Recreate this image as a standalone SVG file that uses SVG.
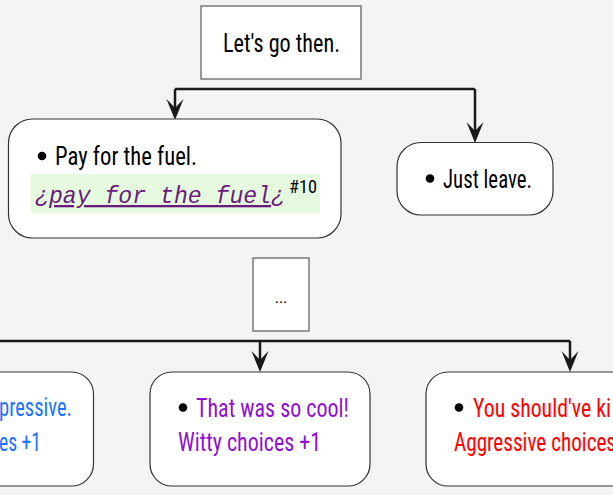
<svg xmlns="http://www.w3.org/2000/svg" width="613" height="495" viewBox="0 0 613 495">
<style>
.bg{fill:#f4f4f4}
.sq{fill:#ffffff;stroke:#7a7a7a;stroke-width:1.5}
.rd{fill:#ffffff;stroke:#333333;stroke-width:1.2}
.t{font-family:"Liberation Sans Narrow","Roboto Condensed",Roboto,"Liberation Sans",Arial,sans-serif;font-size:26px;fill:#000}
.mono{font-family:"Liberation Mono","DejaVu Sans Mono",monospace;font-size:23px;font-style:italic;fill:#6b1a7d}
.blue{fill:#1a73ff}
.purple{fill:#9010d0}
.red{fill:#ff0000}
.conn{fill:none;stroke:#1a1a1a;stroke-width:2.5}
</style>
<defs>
<marker id="arr" viewBox="-22 -10 24 20" refX="-12" refY="0" markerWidth="24" markerHeight="20" markerUnits="userSpaceOnUse" orient="auto">
<path d="M0,0 L-21,-8.5 L-12,0 L-21,8.5 Z" fill="#1a1a1a"/>
</marker>
</defs>
<rect class="bg" x="0" y="0" width="613" height="495"/>

<g id="connectors">
<path class="conn" d="M175,89 H475"/>
<path class="conn" d="M175,89 V108" marker-end="url(#arr)"/>
<path class="conn" d="M475,89 V131" marker-end="url(#arr)"/>
<path class="conn" d="M0,341 H570"/>
<path class="conn" d="M260,341 V360" marker-end="url(#arr)"/>
<path class="conn" d="M570,341 V360" marker-end="url(#arr)"/>
</g>

<g id="node-letsgo">
<rect class="sq" x="201" y="6" width="160" height="73"/>
<text class="t" x="223" y="52" textLength="117" lengthAdjust="spacingAndGlyphs">Let's go then.</text>
</g>

<g id="node-pay">
<rect class="rd" x="8.5" y="119" width="332.5" height="119" rx="24" ry="24"/>
<circle cx="42" cy="156" r="4.3" fill="#000"/>
<text class="t" x="55" y="165" textLength="142" lengthAdjust="spacingAndGlyphs">Pay for the fuel.</text>
<rect x="30.5" y="174" width="289.5" height="39" fill="#e6fae0"/>
<text class="mono" x="35" y="203" textLength="250" lengthAdjust="spacingAndGlyphs">¿<tspan text-decoration="underline">pay for the fuel</tspan>¿</text>
<text class="t" x="289" y="193" style="font-size:18px" textLength="28" lengthAdjust="spacingAndGlyphs">#10</text>
</g>

<g id="node-leave">
<rect class="rd" x="397" y="142.5" width="156" height="72.5" rx="24" ry="24"/>
<circle cx="430" cy="178.5" r="4.3" fill="#000"/>
<text class="t" x="443" y="188" textLength="89" lengthAdjust="spacingAndGlyphs">Just leave.</text>
</g>

<g id="node-ellipsis">
<rect class="sq" x="253" y="258" width="56" height="73"/>
<text class="t" x="281" y="303" text-anchor="middle" style="font-size:16px;fill:#000000">...</text>
</g>

<g id="node-impressive">
<rect class="rd" x="-130" y="372" width="223.5" height="114" rx="22" ry="22"/>
<text class="t blue" x="-1" y="416" textLength="73" lengthAdjust="spacingAndGlyphs">pressive.</text>
<text class="t blue" x="-1" y="451" textLength="42" lengthAdjust="spacingAndGlyphs">es +1</text>
</g>

<g id="node-cool">
<rect class="rd" x="150" y="372" width="220" height="114" rx="22" ry="22"/>
<circle cx="183" cy="407.5" r="4.3" fill="#000"/>
<text class="t purple" x="196" y="417" textLength="153" lengthAdjust="spacingAndGlyphs">That was so cool!</text>
<text class="t purple" x="178" y="451" textLength="143" lengthAdjust="spacingAndGlyphs">Witty choices +1</text>
</g>

<g id="node-killed">
<rect class="rd" x="426" y="372" width="260" height="114" rx="22" ry="22"/>
<circle cx="459" cy="407.5" r="4.3" fill="#000"/>
<text class="t red" x="473" y="417" textLength="138" lengthAdjust="spacingAndGlyphs">You should've ki</text>
<text class="t red" x="454" y="451" textLength="162" lengthAdjust="spacingAndGlyphs">Aggressive choices</text>
</g>
</svg>
